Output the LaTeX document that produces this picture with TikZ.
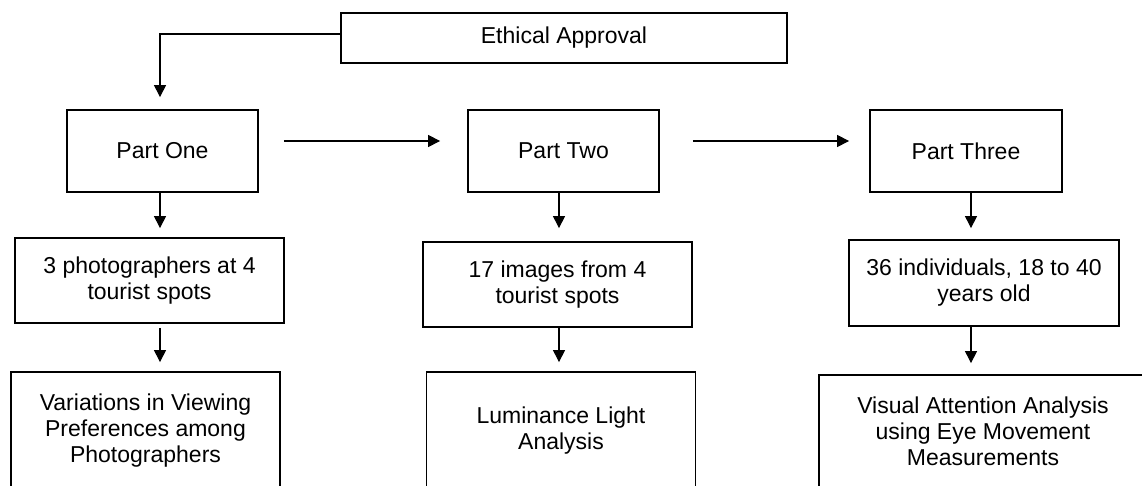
\documentclass[tikz,border=0pt]{standalone}
\usepackage{fontspec}
\setmainfont{Liberation Sans}
\usetikzlibrary{arrows.meta}
\begin{document}
\begin{tikzpicture}[x=1pt,y=1pt,
  box/.style={draw=black, line width=1.8pt, inner sep=0pt, align=center,
    font=\fontsize{23}{26}\selectfont},
  arr/.style={draw=black, line width=1.1pt, -{Triangle[length=12pt,width=12pt]}}]
\useasboundingbox (0,0) rectangle (1142,-486);
\clip (0,0) rectangle (1142,-486);
% column x positions for vertical arrows
\coordinate (a1) at (160,0);
\coordinate (a2) at (559,0);
\coordinate (a3) at (971,0);
% boxes
\node[box, minimum width=446pt, minimum height=50pt] (e) at (564,-38) {Ethical Approval};
\node[box, minimum width=191pt, minimum height=82pt] (p1) at (162.5,-151) {Part One};
\node[box, minimum width=191pt, minimum height=82pt] (p2) at (563.5,-151) {Part Two};
\node[box, minimum width=192pt, minimum height=82pt] (p3) at (966,-151) {Part Three};
\node[box, minimum width=269pt, minimum height=85pt] (b1) at (149.5,-280.5) {3 photographers at 4\\tourist spots};
\node[box, minimum width=269pt, minimum height=85pt] (b2) at (557.5,-284.5) {17 images from 4\\tourist spots};
\node[box, minimum width=270pt, minimum height=86pt] (b3) at (984,-283) {36 individuals, 18 to 40\\years old};
\node[box, minimum width=269pt, minimum height=118pt] (c1) at (145.5,-431) {Variations in Viewing\\Preferences among\\Photographers};
\node[box, minimum width=269pt, minimum height=118pt] (c2) at (561,-431) {Luminance Light\\Analysis};
\node[box, minimum width=328pt, minimum height=112pt] (c3) at (983,-431) {Visual Attention Analysis\\using Eye Movement\\Measurements};
% connectors
\draw[arr, shorten >=12pt] ([yshift=4pt]e.west) -| (p1.north -| a1);
\draw[arr, shorten <=25pt, shorten >=27pt] ([yshift=10pt]p1.east) -- ([yshift=10pt]p2.west);
\draw[arr, shorten <=33pt, shorten >=20pt] ([yshift=10pt]p2.east) -- ([yshift=10pt]p3.west);
\draw[arr, shorten >=9pt] (p1.south -| a1) -- (b1.north -| a1);
\draw[arr, shorten <=4pt, shorten >=9pt] (b1.south -| a1) -- (c1.north -| a1);
\draw[arr, shorten >=13pt] (p2.south -| a2) -- (b2.north -| a2);
\draw[arr, shorten >=9pt] (b2.south -| a2) -- (c2.north -| a2);
\draw[arr, shorten >=11pt] (p3.south -| a3) -- (b3.north -| a3);
\draw[arr, shorten >=11pt] (b3.south -| a3) -- (c3.north -| a3);
\end{tikzpicture}
\end{document}
